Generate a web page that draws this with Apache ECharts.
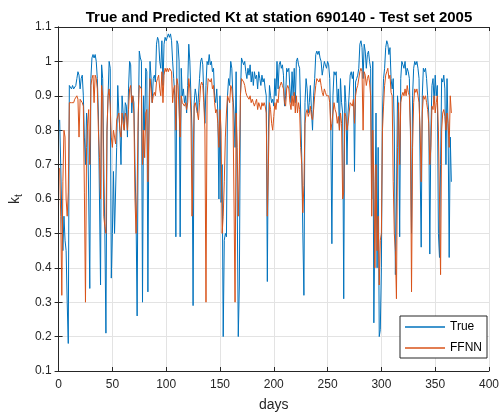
<!DOCTYPE html>
<html>
<head>
<meta charset="utf-8">
<script src="https://cdn.jsdelivr.net/npm/echarts@6/dist/echarts.min.js"></script>
<style>
  html, body { margin: 0; padding: 0; background: #fff; }
  #chart { width: 502px; height: 417px; }
</style>
</head>
<body>
<div id="chart"></div>
<script>
// values, one per day (day 1..365)
const trueKt = [
  0.83, 0.70, 0.55, 0.45, 0.55, 0.48, 0.45, 0.30, 0.18, 0.93,
  0.93, 0.92, 0.93, 0.92, 0.92, 0.93, 0.95, 0.97, 0.96, 0.92,
  0.95, 0.96, 0.90, 0.78, 0.70, 0.85, 0.80, 0.60, 0.34, 0.95,
  1.01, 1.02, 1.01, 1.02, 1.00, 0.95, 0.85, 0.60, 0.35, 0.99,
  0.95, 0.70, 0.50, 0.21, 0.80, 0.90, 1.00, 0.98, 0.37, 0.50,
  0.68, 0.50, 0.50, 0.75, 0.93, 0.85, 0.80, 0.70, 0.90, 0.85,
  0.80, 0.88, 0.87, 0.78, 0.92, 1.00, 0.99, 0.85, 0.90, 0.88,
  0.70, 0.55, 0.26, 0.80, 1.03, 1.01, 1.00, 0.30, 0.90, 0.80,
  0.98, 0.97, 0.33, 0.85, 1.00, 0.95, 0.88, 0.95, 0.96, 0.94,
  1.05, 1.07, 1.06, 1.00, 0.98, 1.06, 0.93, 1.05, 1.07, 1.06,
  1.07, 1.08, 1.07, 1.08, 1.06, 1.00, 0.95, 0.90, 0.49, 1.06,
  1.05, 1.00, 0.49, 0.98, 0.90, 0.92, 0.88, 0.90, 0.85, 0.93,
  1.05, 1.00, 0.90, 0.80, 0.29, 0.88, 0.92, 0.90, 0.85, 0.85,
  0.95, 1.00, 1.01, 0.99, 0.90, 0.82, 0.93, 1.00, 0.99, 1.02,
  0.99, 1.00, 0.97, 0.98, 0.90, 0.88, 0.92, 0.85, 0.60, 0.90,
  0.59, 0.70, 0.20, 0.48, 0.50, 0.49, 0.90, 0.95, 0.93, 1.00,
  0.98, 0.90, 0.85, 0.75, 0.97, 0.60, 0.20, 0.35, 0.90, 1.01,
  1.01, 0.99, 1.00, 0.97, 0.95, 0.98, 0.96, 0.99, 0.94, 0.97,
  0.93, 0.97, 0.95, 0.96, 0.92, 0.97, 0.95, 0.93, 0.96, 0.94,
  0.95, 0.92, 0.90, 0.36, 0.80, 0.93, 0.90, 0.88, 0.89, 0.87,
  0.95, 0.90, 1.00, 0.92, 0.99, 1.00, 0.98, 0.99, 0.96, 0.87,
  0.90, 0.98, 0.97, 0.98, 0.92, 0.88, 0.97, 0.90, 0.98, 0.88,
  1.00, 1.01, 0.99, 0.98, 0.85, 0.72, 0.50, 0.32, 0.88, 0.95,
  0.92, 0.85, 0.88, 0.93, 0.86, 0.80, 0.90, 0.95, 1.02, 1.03,
  1.02, 1.03, 1.01, 1.00, 0.96, 0.98, 1.00, 0.99, 0.98, 1.00,
  0.99, 0.95, 0.80, 0.47, 0.90, 0.97, 0.96, 0.97, 0.88, 0.92,
  0.80, 0.95, 0.88, 0.85, 0.31, 0.93, 0.88, 0.70, 0.85, 0.90,
  0.96, 0.97, 0.95, 0.97, 0.68, 0.94, 0.95, 0.96, 0.98, 1.05,
  1.06, 1.04, 0.95, 1.05, 1.03, 0.98, 1.02, 1.03, 1.00, 0.98,
  0.60, 1.00, 0.24, 0.55, 0.85, 0.40, 0.75, 0.20, 0.22, 0.40,
  0.85, 0.95, 0.98, 1.04, 1.06, 1.05, 1.02, 1.04, 0.95, 0.92,
  0.95, 0.80, 0.38, 0.60, 0.90, 0.85, 0.49, 0.95, 1.00, 0.99,
  0.98, 1.00, 0.96, 0.98, 0.97, 0.95, 0.80, 0.50, 0.90, 0.98,
  1.00, 0.99, 1.00, 0.98, 0.95, 0.70, 0.46, 0.90, 0.98, 0.97,
  0.98, 0.95, 0.90, 0.85, 0.44, 0.80, 0.93, 0.95, 0.88, 0.96,
  0.90, 0.93, 0.50, 0.43, 0.70, 0.95, 0.94, 0.96, 0.92, 0.70,
  0.95, 0.80, 0.43, 0.78, 0.65
];

const ffnnKt = [
  0.69, 0.55, 0.32, 0.65, 0.80, 0.78, 0.60, 0.55, 0.62, 0.88,
  0.88, 0.88, 0.88, 0.88, 0.89, 0.89, 0.90, 0.89, 0.78, 0.89,
  0.89, 0.88, 0.87, 0.62, 0.30, 0.75, 0.82, 0.86, 0.70, 0.93,
  0.95, 0.96, 0.88, 0.96, 0.95, 0.92, 0.80, 0.72, 0.60, 0.93,
  0.90, 0.55, 0.52, 0.50, 0.80, 0.90, 0.92, 0.87, 0.78, 0.75,
  0.80, 0.78, 0.76, 0.83, 0.83, 0.85, 0.80, 0.78, 0.85, 0.82,
  0.80, 0.85, 0.84, 0.80, 0.86, 0.92, 0.93, 0.88, 0.90, 0.85,
  0.60, 0.50, 0.62, 0.85, 0.93, 0.93, 0.92, 0.70, 0.80, 0.72,
  0.85, 0.86, 0.65, 0.80, 0.95, 0.92, 0.88, 0.90, 0.91, 0.90,
  0.94, 0.95, 0.96, 0.92, 0.90, 0.97, 0.88, 0.96, 0.98, 0.97,
  0.98, 0.97, 0.98, 0.98, 0.97, 0.88, 0.92, 0.93, 0.80, 0.95,
  0.93, 0.93, 0.78, 0.90, 0.88, 0.88, 0.87, 0.88, 0.86, 0.88,
  0.95, 0.92, 0.85, 0.55, 0.70, 0.87, 0.88, 0.88, 0.85, 0.83,
  0.88, 0.93, 0.94, 0.93, 0.88, 0.80, 0.30, 0.90, 0.95, 0.95,
  0.94, 0.95, 0.92, 0.93, 0.88, 0.85, 0.86, 0.82, 0.75, 0.86,
  0.80, 0.50, 0.55, 0.65, 0.78, 0.85, 0.90, 0.90, 0.88, 0.93,
  0.92, 0.88, 0.60, 0.30, 0.85, 0.75, 0.55, 0.70, 0.90, 0.95,
  0.95, 0.94, 0.93, 0.91, 0.90, 0.90, 0.89, 0.90, 0.88, 0.89,
  0.88, 0.87, 0.88, 0.89, 0.86, 0.88, 0.87, 0.86, 0.88, 0.87,
  0.88, 0.87, 0.85, 0.55, 0.70, 0.88, 0.86, 0.82, 0.80, 0.84,
  0.88, 0.86, 0.89, 0.88, 0.92, 0.93, 0.94, 0.93, 0.92, 0.88,
  0.87, 0.92, 0.93, 0.92, 0.88, 0.86, 0.90, 0.87, 0.91, 0.85,
  0.90, 0.85, 0.88, 0.86, 0.75, 0.70, 0.56, 0.64, 0.82, 0.85,
  0.86, 0.84, 0.85, 0.87, 0.84, 0.83, 0.86, 0.90, 0.93, 0.95,
  0.95, 0.94, 0.95, 0.93, 0.91, 0.90, 0.92, 0.91, 0.90, 0.90,
  0.90, 0.88, 0.80, 0.82, 0.85, 0.88, 0.86, 0.85, 0.82, 0.84,
  0.80, 0.85, 0.82, 0.60, 0.62, 0.85, 0.84, 0.80, 0.82, 0.85,
  0.88, 0.88, 0.87, 0.89, 0.82, 0.90, 0.92, 0.93, 0.93, 0.97,
  0.98, 0.97, 0.80, 0.97, 0.96, 0.93, 0.95, 0.96, 0.94, 0.90,
  0.55, 0.80, 0.65, 0.40, 0.70, 0.45, 0.55, 0.35, 0.48, 0.50,
  0.80, 0.87, 0.93, 0.96, 0.97, 0.98, 0.95, 0.96, 0.91, 0.90,
  0.65, 0.50, 0.45, 0.31, 0.75, 0.88, 0.70, 0.88, 0.90, 0.91,
  0.90, 0.92, 0.90, 0.93, 0.91, 0.90, 0.80, 0.33, 0.75, 0.88,
  0.92, 0.91, 0.92, 0.90, 0.88, 0.80, 0.65, 0.85, 0.90, 0.89,
  0.90, 0.88, 0.86, 0.82, 0.70, 0.75, 0.87, 0.86, 0.90, 0.85,
  0.88, 0.90, 0.80, 0.60, 0.38, 0.80, 0.85, 0.86, 0.84, 0.80,
  0.85, 0.82, 0.75, 0.90, 0.85
];

const xTicks = { min: 0, max: 400, step: 50 };
const yTicks = { min: 0.1, max: 1.1, step: 0.1 };

const axisColor = '#262626';
const gridColor = '#e3e3e3';
const font = 'Liberation Sans, Arial, sans-serif';

const pairs = arr => arr.map((v, i) => [i + 1, v]);
const yFmt = v => String(Math.round(v * 10) / 10);

const chart = echarts.init(document.getElementById('chart'));

// top and right edges of the box, ticks only
const frameAxis = {
  axisLine: { show: true, lineStyle: { color: axisColor, width: 1 } },
  axisTick: { show: true, inside: true, length: 4, lineStyle: { color: axisColor } },
  splitLine: { show: false },
  axisLabel: { show: false }
};

chart.setOption({
  animation: false,
  backgroundColor: '#fff',
  textStyle: { fontFamily: font },
  title: {
    text: 'True and Predicted Kt at station 690140 - Test set 2005',
    left: 274, top: 5, textAlign: 'center',
    textStyle: { fontSize: 15, fontWeight: 'bold', color: '#000', fontFamily: font }
  },
  grid: { left: 57, right: 11, top: 27, bottom: 46 },
  legend: {
    data: [
      { name: 'True', icon: 'rect' },
      { name: 'FFNN', icon: 'rect' }
    ],
    orient: 'vertical',
    right: 15, bottom: 59,
    itemWidth: 40, itemHeight: 1.5, itemGap: 9,
    padding: [5, 5, 4, 5],
    backgroundColor: '#fff',
    borderColor: axisColor, borderWidth: 1,
    textStyle: { fontSize: 12, color: '#000', fontFamily: font }
  },
  xAxis: [{
    type: 'value', min: xTicks.min, max: xTicks.max, interval: xTicks.step,
    name: 'days', nameLocation: 'middle', nameGap: 27,
    nameTextStyle: { fontSize: 14, color: axisColor },
    axisLine: { show: true, onZero: false, lineStyle: { color: axisColor } },
    axisTick: { show: true, inside: true, length: 4, lineStyle: { color: axisColor } },
    axisLabel: { fontSize: 12, color: axisColor, margin: 8 },
    splitLine: { show: true, lineStyle: { color: gridColor, width: 1 } }
  }, Object.assign({
    type: 'value', position: 'top', min: xTicks.min, max: xTicks.max, interval: xTicks.step
  }, frameAxis)],
  yAxis: [{
    type: 'value', min: yTicks.min, max: yTicks.max, interval: yTicks.step,
    name: '{k|k}{t|t}', nameLocation: 'middle', nameGap: 32, nameRotate: 90,
    nameTextStyle: {
      color: axisColor,
      rich: {
        k: { fontSize: 14, color: axisColor, fontFamily: font },
        t: { fontSize: 10, color: axisColor, fontFamily: font, padding: [8, 0, 0, 0] }
      }
    },
    axisLine: { show: true, onZero: false, lineStyle: { color: axisColor } },
    axisTick: { show: true, inside: true, length: 4, lineStyle: { color: axisColor } },
    axisLabel: { fontSize: 12, color: axisColor, margin: 7, formatter: yFmt },
    splitLine: { show: true, lineStyle: { color: gridColor, width: 1 } }
  }, Object.assign({
    type: 'value', position: 'right', min: yTicks.min, max: yTicks.max, interval: yTicks.step
  }, frameAxis)],
  series: [{
    name: 'True', type: 'line', data: pairs(trueKt),
    symbol: 'none', color: '#0072BD',
    lineStyle: { width: 1, color: '#0072BD' }
  }, {
    name: 'FFNN', type: 'line', data: pairs(ffnnKt),
    symbol: 'none', color: '#D95319',
    lineStyle: { width: 1, color: '#D95319' }
  }]
});
</script>
</body>
</html>
